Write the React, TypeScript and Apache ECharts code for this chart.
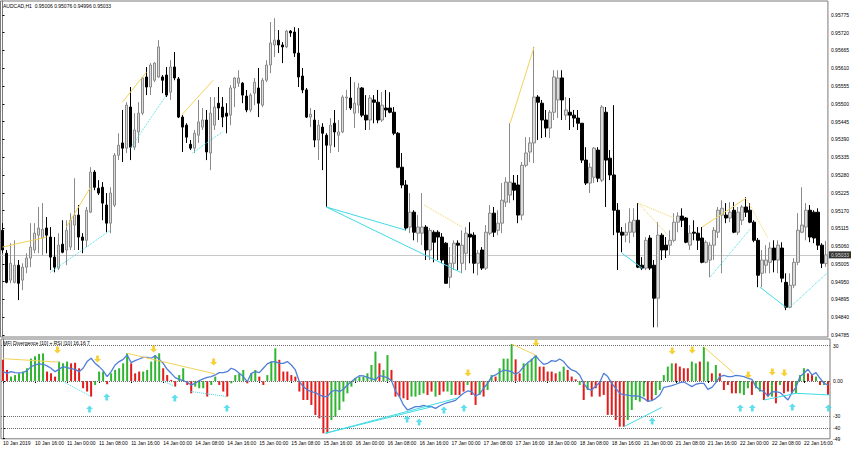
import React, { useEffect, useRef } from "react";
import * as echarts from "echarts";

// ---------- price candles (AUDCAD H1) ----------
const opens = [0.95109,0.95038,0.94955,0.94948,0.95001,0.94955,0.94995,0.95023,0.95048,0.95094,0.95085,0.95116,0.95088,0.95026,0.94992,0.95066,0.95048,0.95057,0.95125,0.95156,0.95088,0.95078,0.95165,0.95289,0.95239,0.95242,0.95187,0.95131,0.95187,0.95341,0.95379,0.95363,0.95490,0.95366,0.95413,0.95471,0.95583,0.95552,0.95573,0.95583,0.95583,0.95589,0.95536,0.95614,0.95577,0.95459,0.95434,0.95375,0.95363,0.95403,0.95428,0.95450,0.95348,0.95434,0.95502,0.95490,0.95471,0.95465,0.95549,0.95564,0.95564,0.95524,0.95481,0.95533,0.95549,0.95496,0.95573,0.95620,0.95682,0.95697,0.95682,0.95676,0.95725,0.95722,0.95657,0.95586,0.95543,0.95459,0.95450,0.95388,0.95428,0.95403,0.95372,0.95440,0.95403,0.95413,0.95518,0.95518,0.95471,0.95496,0.95549,0.95465,0.95450,0.95512,0.95505,0.95450,0.95487,0.95487,0.95474,0.95409,0.95304,0.95249,0.95119,0.95165,0.95100,0.95100,0.95119,0.95048,0.95103,0.95103,0.95088,0.95069,0.94964,0.95007,0.95069,0.95007,0.95038,0.95097,0.95094,0.95007,0.95048,0.94992,0.95100,0.95162,0.95109,0.95131,0.95196,0.95218,0.95255,0.95249,0.95156,0.95310,0.95351,0.95379,0.95521,0.95502,0.95450,0.95425,0.95474,0.95512,0.95580,0.95465,0.95474,0.95465,0.95456,0.95440,0.95326,0.95255,0.95273,0.95357,0.95264,0.95474,0.95332,0.95280,0.95171,0.95103,0.95094,0.95103,0.95103,0.95140,0.95001,0.94992,0.95085,0.95001,0.94899,0.95094,0.95063,0.95063,0.95078,0.95134,0.95153,0.95147,0.95063,0.95103,0.95100,0.95085,0.95010,0.95017,0.95063,0.95103,0.95156,0.95156,0.95147,0.95171,0.95103,0.95140,0.95181,0.95171,0.95134,0.95078,0.94976,0.95001,0.95010,0.95054,0.95017,0.95054,0.94948,0.94871,0.94939,0.95010,0.95103,0.95119,0.95171,0.95165,0.95165,0.95063,0.95006];
const highs = [0.95131,0.95048,0.95069,0.95078,0.95017,0.95007,0.95038,0.95131,0.95131,0.95181,0.95193,0.95150,0.95119,0.95088,0.95100,0.95140,0.95140,0.95162,0.95270,0.95187,0.95100,0.95181,0.95304,0.95295,0.95264,0.95258,0.95224,0.95242,0.95348,0.95409,0.95481,0.95505,0.95552,0.95471,0.95505,0.95583,0.95614,0.95626,0.95629,0.95697,0.95589,0.95614,0.95635,0.95660,0.95583,0.95465,0.95440,0.95388,0.95419,0.95512,0.95487,0.95481,0.95521,0.95521,0.95552,0.95521,0.95502,0.95558,0.95583,0.95604,0.95567,0.95543,0.95533,0.95580,0.95611,0.95580,0.95635,0.95753,0.95765,0.95728,0.95691,0.95728,0.95728,0.95737,0.95734,0.95611,0.95549,0.95487,0.95481,0.95450,0.95440,0.95409,0.95456,0.95481,0.95450,0.95527,0.95543,0.95583,0.95567,0.95564,0.95552,0.95527,0.95527,0.95527,0.95543,0.95536,0.95543,0.95536,0.95490,0.95413,0.95348,0.95264,0.95224,0.95171,0.95156,0.95224,0.95125,0.95116,0.95109,0.95109,0.95100,0.95072,0.95057,0.95078,0.95078,0.95109,0.95119,0.95134,0.95103,0.95048,0.95057,0.95125,0.95187,0.95181,0.95171,0.95255,0.95273,0.95440,0.95280,0.95280,0.95320,0.95397,0.95397,0.95676,0.95527,0.95512,0.95481,0.95481,0.95604,0.95604,0.95604,0.95521,0.95518,0.95481,0.95481,0.95440,0.95366,0.95317,0.95366,0.95366,0.95496,0.95490,0.95357,0.95496,0.95193,0.95119,0.95131,0.95177,0.95177,0.95193,0.95026,0.95088,0.95094,0.95017,0.95134,0.95100,0.95088,0.95109,0.95162,0.95165,0.95177,0.95150,0.95125,0.95140,0.95119,0.95119,0.95078,0.95072,0.95119,0.95181,0.95202,0.95193,0.95196,0.95196,0.95181,0.95187,0.95211,0.95193,0.95140,0.95085,0.95048,0.95063,0.95072,0.95078,0.95078,0.95072,0.94976,0.94976,0.95023,0.95162,0.95242,0.95193,0.95187,0.95171,0.95177,0.95069,0.95076];
const lows = [0.95038,0.94945,0.94945,0.94945,0.94893,0.94924,0.94976,0.94995,0.95038,0.95038,0.95032,0.95038,0.94986,0.94979,0.94986,0.95038,0.95001,0.95048,0.95048,0.95048,0.95038,0.95057,0.95162,0.95233,0.95218,0.95140,0.95103,0.95100,0.95181,0.95326,0.95320,0.95348,0.95326,0.95357,0.95379,0.95465,0.95527,0.95527,0.95567,0.95580,0.95533,0.95521,0.95512,0.95573,0.95456,0.95351,0.95379,0.95357,0.95348,0.95379,0.95419,0.95326,0.95295,0.95419,0.95450,0.95428,0.95409,0.95434,0.95490,0.95552,0.95502,0.95474,0.95474,0.95496,0.95459,0.95490,0.95567,0.95595,0.95645,0.95657,0.95626,0.95672,0.95707,0.95645,0.95552,0.95533,0.95456,0.95428,0.95366,0.95326,0.95295,0.95181,0.95348,0.95366,0.95351,0.95409,0.95481,0.95481,0.95425,0.95471,0.95459,0.95419,0.95419,0.95440,0.95440,0.95444,0.95459,0.95471,0.95403,0.95301,0.95239,0.95109,0.95100,0.95078,0.95072,0.95063,0.95017,0.95017,0.95010,0.95017,0.95007,0.94945,0.94930,0.94986,0.94986,0.94976,0.94986,0.95007,0.94976,0.94970,0.94986,0.94986,0.95094,0.95088,0.95094,0.95100,0.95181,0.95193,0.95202,0.95131,0.95140,0.95304,0.95320,0.95317,0.95388,0.95394,0.95397,0.95394,0.95450,0.95456,0.95450,0.95450,0.95419,0.95428,0.95419,0.95317,0.95249,0.95224,0.95255,0.95258,0.95258,0.95181,0.95264,0.95094,0.94986,0.95041,0.95072,0.95069,0.95088,0.94992,0.94986,0.94986,0.94986,0.94809,0.94809,0.95017,0.95023,0.95032,0.95072,0.95103,0.95119,0.95069,0.95048,0.95078,0.95048,0.95007,0.95007,0.94964,0.95017,0.95085,0.94976,0.95131,0.95134,0.95100,0.95094,0.95125,0.95150,0.95131,0.95072,0.94933,0.94933,0.94976,0.94976,0.94979,0.94976,0.94948,0.94862,0.94868,0.94930,0.95001,0.95100,0.95078,0.95072,0.95069,0.95048,0.94992,0.94996];
const closes = [0.95048,0.94948,0.95007,0.95001,0.94945,0.94995,0.95023,0.95057,0.95100,0.95116,0.95112,0.95094,0.95026,0.94995,0.95063,0.95041,0.95109,0.95140,0.95156,0.95088,0.95078,0.95171,0.95289,0.95242,0.95224,0.95193,0.95131,0.95224,0.95341,0.95372,0.95363,0.95496,0.95366,0.95419,0.95471,0.95580,0.95552,0.95620,0.95626,0.95676,0.95573,0.95527,0.95614,0.95580,0.95459,0.95428,0.95397,0.95363,0.95409,0.95444,0.95450,0.95351,0.95471,0.95490,0.95487,0.95459,0.95462,0.95549,0.95580,0.95580,0.95527,0.95481,0.95527,0.95567,0.95502,0.95573,0.95620,0.95688,0.95697,0.95682,0.95676,0.95725,0.95719,0.95657,0.95583,0.95543,0.95459,0.95468,0.95388,0.95434,0.95409,0.95372,0.95434,0.95413,0.95413,0.95521,0.95521,0.95487,0.95502,0.95549,0.95465,0.95450,0.95518,0.95505,0.95450,0.95496,0.95481,0.95474,0.95409,0.95304,0.95249,0.95116,0.95165,0.95103,0.95119,0.95119,0.95048,0.95109,0.95072,0.95088,0.95017,0.94945,0.95007,0.95069,0.95063,0.95063,0.95100,0.95088,0.95007,0.95038,0.94992,0.95103,0.95162,0.95103,0.95131,0.95202,0.95258,0.95258,0.95233,0.95156,0.95310,0.95348,0.95379,0.95521,0.95505,0.95450,0.95425,0.95474,0.95583,0.95580,0.95512,0.95481,0.95465,0.95456,0.95440,0.95326,0.95255,0.95304,0.95363,0.95270,0.95490,0.95326,0.95280,0.95171,0.95103,0.95094,0.95103,0.95134,0.95140,0.94995,0.94992,0.95078,0.94992,0.94899,0.95094,0.95048,0.95048,0.95078,0.95134,0.95153,0.95140,0.95072,0.95100,0.95100,0.95078,0.95010,0.95072,0.95063,0.95109,0.95171,0.95177,0.95147,0.95165,0.95103,0.95165,0.95181,0.95165,0.95134,0.95078,0.94970,0.95017,0.95017,0.95054,0.95017,0.95063,0.94961,0.94871,0.94939,0.95010,0.95109,0.95125,0.95171,0.95088,0.95085,0.95063,0.95007,0.95033];
const bidPrice = 0.95033;
const chartTitle = "AUDCAD,H1  0.95006 0.95076 0.94996 0.95033";

const priceTicks = [0.94785,0.9484,0.94895,0.9495,0.95005,0.9506,0.95115,0.9517,0.95225,0.9528,0.95335,0.9539,0.95445,0.955,0.95555,0.9561,0.95665,0.9572,0.95775];

const timeLabels = ["10 Jan 2019","10 Jan 16:00","11 Jan 00:00","11 Jan 08:00","11 Jan 16:00","14 Jan 00:00","14 Jan 08:00","14 Jan 16:00","15 Jan 00:00","15 Jan 08:00","15 Jan 16:00","16 Jan 00:00","16 Jan 08:00","16 Jan 16:00","17 Jan 00:00","17 Jan 08:00","17 Jan 16:00","18 Jan 00:00","18 Jan 08:00","18 Jan 16:00","21 Jan 00:00","21 Jan 08:00","21 Jan 16:00","22 Jan 00:00","22 Jan 08:00","22 Jan 16:00"];
const barsPerLabel = 8;

// ---------- indicator window ----------
const indicatorTitle = "MFI Divergence [10] + RSI [10] 16.16 7";
const histValues = [18,9.4,3.7,5,6.5,8,10.8,19,21,23,23.5,8,6.5,3.7,16.5,15,16.5,15,15.5,10.8,-6.2,-9,-13.3,-3.4,8,8,-2.8,6.5,9.4,10.8,15,23.5,15,6.5,8,8,9.4,16.5,22,23.5,10.8,5,0.9,-4.8,5,10.8,-3.4,-10.5,-4.8,-6.2,-6.2,-13.3,-3.4,3.7,-3.4,-9,-13.3,-2,5,6.5,9.4,-2,6.5,9.4,3.7,-3.4,5,16.5,27.8,18,8,8,5,3.7,-9,-16.2,-16.2,-20.4,-28.9,-31.8,-44.5,-44.5,-33.2,-30.4,-24.7,-17.6,-10.5,-4.8,2.3,3.7,3.7,6.5,13.6,25,15,9.4,22,9.4,-13.3,-13.3,-14.8,-16.2,-13.3,-13.3,-11.9,-10.5,-11.9,-9,-13.3,-11.9,-9,-9,-11.9,-11.9,-11.9,-9,-3.4,-11.9,-20.4,-11.9,-13.3,-7.7,5,3.7,10.8,19,19,31.5,18.4,6.5,15,15,19,22,12.2,12.2,8,8,6.5,8,12.2,9.4,3.7,1.4,-3.4,-16.2,-7.7,-13.3,-6.2,-13.3,-11.9,-28.9,-28.9,-33.2,-38.9,-38.9,-33.2,-24.7,-16.2,-17.6,-13.3,-17.6,-16.2,-11.9,-7.7,5,12.2,15,15,12.2,10.8,10.8,16.5,15,16.5,29,16.5,6.5,13.6,6.5,-7.7,-3.4,-10.5,-10.5,-10.5,-11.9,-6.2,-11.9,-6.2,-9,-16.2,-13.3,-13.3,-19,-3.4,-10.5,-9,-10.5,-10.5,5,10.8,6.5,5,3.7,-3.4,-3.4,-11.9];
// g = green bar, r = red bar, ten bars per group
const histColorGroups = ["rrgggggggg","grrrgggrrr","rrrgggrggg","ggrrrggggg","rrrrggrrgg","grggrrrggg","grggrrgggr","rrrrrrrrrr","rrgggggggg","ggggrggrrr","rrggggrrgr","rggrrrgrrg","rggrggggrr","ggggrrrrrg","grrrgrgrrr","rrrrrrgggg","grrgggggrr","rrggrggrgr","rrrrgggrgg","rrgrgrrrgg","grrgrgr"];
const blueLine = [7.9,6.5,7.9,7.1,6.8,7.1,8.8,12.2,13.6,14.5,14.2,12.8,10.8,7.9,9.9,12.2,11.3,10.5,9.9,7.9,10.8,16.5,19.3,15,12.2,8.8,3.7,7.9,13.6,16.5,18.4,22.1,15.6,17.3,18.7,20.1,20.1,19.3,21.3,18.4,15,9.9,6.5,2.8,1.4,0.3,-1.1,-3.4,-2,0.3,1.7,3.1,3.7,5.1,7.1,7.1,7.9,10.8,9.4,6.5,3.7,-0.6,6.5,7.9,7.1,10.8,14.5,16.2,16.5,15,15,16.5,13.6,9.4,-0.6,-4.8,-7.7,-9.1,-9.9,-11.9,-13.3,-13.3,-9.1,-7.7,-9.1,-7.1,-3.4,-0.6,2.3,4.5,4.3,3.1,2,0.9,4.5,3.7,2.8,0.3,-8.5,-13.3,-20.4,-24.7,-23.3,-21.8,-21.8,-20.7,-21.8,-21.8,-23.3,-21.3,-19.6,-18.4,-17.6,-16.5,-13.3,-10.5,-8.5,-9.1,-12.8,-11.1,-6.2,-2,3.7,5.1,7.4,9.1,8.8,7.9,5.7,7.9,12.2,15.6,17.9,21.6,17.3,14.2,15,17.3,16.7,18.7,16.5,12.2,9.4,8.2,5.1,-2,-6.8,-7.7,-4.3,-1.4,6.5,3.7,-2,-6.2,-10.5,-11.9,-11.9,-13,-12.5,-13.3,-14.8,-17.3,-16.7,-14.8,-11.9,-5.4,-4.8,-4,-2.8,-1.4,-0.9,-2.8,-4.8,-2.8,-2,-2,-7.1,-5.4,-1.4,3.7,4.8,3.7,3.7,4.8,4.3,3.7,2.3,1.4,-4.8,-7.7,-9.1,-12.8,-9.4,-9.1,-9.9,-12.8,-16.2,-9.9,-5.4,3.7,6.5,9.9,5.1,7.1,2.3,-2,-3.4];
const mfiTicks = [33, 30, 0, -30, -40, -49];
const mfiLevels = [30, 0, -30, -40];

// ---------- divergence lines: [barIndex, value] pairs ----------
const priceYellowSolid = [
  [[0, 0.95057], [11, 0.95088]],
  [[16, 0.95119], [22, 0.95242]],
  [[30, 0.95505], [36, 0.95598]],
  [[44.8, 0.95465], [52.7, 0.95573]],
  [[127, 0.95440], [133, 0.95676]],
  [[175, 0.95119], [186, 0.95208]],
];
const priceYellowDotted = [
  [[105.5, 0.95187], [115, 0.95119]],
  [[159, 0.95193], [168, 0.95147]],
  [[159, 0.95193], [166.5, 0.95094]],
  [[186, 0.95208], [191.5, 0.95085]],
];
const priceCyanSolid = [
  [[81, 0.95181], [101, 0.95109]],
  [[81, 0.95181], [114.6, 0.94979]],
  [[155, 0.95038], [160, 0.94992]],
  [[189.5, 0.94933], [196, 0.94871]],
];
const priceCyanDotted = [
  [[12, 0.94979], [27, 0.95109]],
  [[32, 0.95363], [41, 0.95527]],
  [[47.5, 0.95348], [55, 0.95413]],
  [[177, 0.94964], [187, 0.95112]],
  [[197, 0.94871], [206.5, 0.94979]],
];
const mfiYellowSolid = [
  [[0, 19], [14, 16]],
  [[31, 23.5], [53, 6]],
  [[127, 31.5], [133, 22]],
  [[175, 29], [182.5, 6.5]],
];
const mfiCyanSolid = [
  [[80.5, -44.5], [107, -22]],
  [[80.5, -44.5], [113.5, -14.5]],
  [[155, -38.9], [164.5, -22.5]],
  [[190, -16.2], [198, -10.5]],
  [[198, -10.5], [206.5, -11.9]],
];
const mfiCyanDotted = [
  [[15, -0.5], [22, -13.3]],
  [[40, 0], [43, -4.8]],
  [[47, -9], [56, -13.3]],
];
const sellArrows = [[13.6, 26.4], [23.6, 18.7], [37.6, 27.2], [52.6, 16.2], [116.1, 6.8], [133.1, 32.3], [167.1, 25.5], [172.1, 26.4], [186.1, 5.1], [192.1, 7.7], [195.1, 6.8]];
const buyArrows = [[21.6, -23.8], [25.9, -13.6], [42.9, -14.5], [55.9, -23], [100.9, -32.3], [103.9, -34.9], [110.1, -24.7], [115.1, -23], [162.1, -34], [184.1, -23], [187.1, -23], [197.1, -22.1], [206.1, -23]];

const FONT = "'Liberation Sans', Arial, sans-serif";
const GREEN = "#2fb52f";
const RED = "#e31b1b";
const YELLOW = "#f2d35a";
const CYAN = "#3fdbe6";
const ARROW_YELLOW = "#f5c400";
const ARROW_CYAN = "#38d6ea";
const DOWN_ARROW = "path://M3,0 L7,0 L7,5 L10,5 L5,10 L0,5 L3,5 Z";
const UP_ARROW = "path://M5,0 L10,5 L7,5 L7,10 L3,10 L3,5 L0,5 Z";

export default function App() {
  const ref = useRef<HTMLDivElement>(null);
  useEffect(() => {
    if (!ref.current) return;
    const chart = echarts.init(ref.current, undefined, { renderer: "svg" });
    const n = closes.length;
    const cats = closes.map((_, i) => String(i));
    const candleData = opens.map((o, i) => [o, closes[i], lows[i], highs[i]]);
    const histColors = histColorGroups.join("");
    const histData = histValues.map((v, i) => ({
      value: v,
      itemStyle: { color: histColors[i] === "g" ? GREEN : RED },
    }));
    const segs = (list: number[][][], color: string, type: string, xi: number, yi: number, z = 6) => ({
      type: "lines",
      coordinateSystem: "cartesian2d",
      xAxisIndex: xi,
      yAxisIndex: yi,
      silent: true,
      z,
      symbol: ["none", "none"],
      lineStyle: { color, width: 1, type, opacity: 1, curveness: 0 },
      data: list.map((s) => ({ coords: s })),
    });
    const labelStyle = { fontSize: 5, color: "#000", fontFamily: FONT };

    chart.setOption({
      animation: false,
      backgroundColor: "#ffffff",
      textStyle: { fontFamily: FONT },
      grid: [
        { left: 0.5, top: 1, width: 829.5, height: 336, show: true, borderColor: "#7a7a7a", borderWidth: 1, backgroundColor: "#fff" },
        { left: 0.5, top: 339, width: 829.5, height: 99.8, show: true, borderColor: "#7a7a7a", borderWidth: 1, backgroundColor: "#fff" },
      ],
      xAxis: [
        { type: "category", gridIndex: 0, data: cats, boundaryGap: true, axisLine: { show: false }, axisTick: { show: false }, axisLabel: { show: false }, splitLine: { show: false } },
        {
          type: "category", gridIndex: 1, data: cats, boundaryGap: true,
          axisLine: { show: false },
          axisTick: { show: true, alignWithLabel: true, length: 2, interval: (i: number) => i % barsPerLabel === 0, lineStyle: { color: "#000" } },
          axisLabel: {
            ...labelStyle, margin: 2, align: "left",
            interval: (i: number) => i % barsPerLabel === 0,
            formatter: (_v: string, i: number) => timeLabels[i / barsPerLabel] ?? "",
          },
          splitLine: { show: false },
        },
        { type: "value", gridIndex: 0, min: -0.5, max: n - 0.5, show: false },
        { type: "value", gridIndex: 1, min: -0.5, max: n - 0.5, show: false },
      ],
      yAxis: [
        {
          type: "value", gridIndex: 0, position: "right", min: 0.94779, max: 0.95818,
          axisLine: { show: true, lineStyle: { color: "#7a7a7a" } },
          axisTick: { show: true, length: 2, customValues: priceTicks, lineStyle: { color: "#000" } },
          axisLabel: { ...labelStyle, margin: 3, customValues: priceTicks, formatter: (v: number) => v.toFixed(5) },
          splitLine: { show: false },
        },
        {
          type: "value", gridIndex: 1, position: "right", min: -49.2, max: 35.7,
          axisLine: { show: true, lineStyle: { color: "#7a7a7a" } },
          axisTick: { show: true, length: 2, customValues: mfiTicks, lineStyle: { color: "#000" } },
          axisLabel: { ...labelStyle, margin: 3, hideOverlap: false, customValues: mfiTicks, formatter: (v: number) => (v === 0 ? "0.00" : String(v)) },
          splitLine: { show: false },
        },
      ],
      series: [
        segs([[[-0.5, bidPrice], [n - 0.5, bidPrice]]], "#c8c8c8", "solid", 2, 0, 1),
        {
          type: "scatter", xAxisIndex: 2, yAxisIndex: 0, data: [[n - 0.5, bidPrice]], symbolSize: 0, z: 10, silent: true,
          label: { show: true, position: "right", distance: 1, formatter: bidPrice.toFixed(5), backgroundColor: "#000", color: "#fff", fontSize: 5, fontFamily: FONT, padding: [1, 2, 1, 2] },
        },
        {
          type: "candlestick", xAxisIndex: 0, yAxisIndex: 0, data: candleData, barWidth: 3, z: 3,
          itemStyle: { color: "#dcdcdc", color0: "#000000", borderColor: "#8a8a8a", borderColor0: "#000000", borderWidth: 1 },
        },
        segs(priceYellowSolid, YELLOW, "solid", 2, 0),
        segs(priceYellowDotted, YELLOW, "dotted", 2, 0),
        segs(priceCyanSolid, CYAN, "solid", 2, 0),
        segs(priceCyanDotted, CYAN, "dotted", 2, 0),
        {
          type: "bar", xAxisIndex: 1, yAxisIndex: 1, data: histData, barWidth: 2, z: 2,
          markLine: {
            silent: true, symbol: ["none", "none"], label: { show: false },
            lineStyle: { color: "#6a6a6a", width: 1, type: "dotted" },
            data: mfiLevels.map((v) => ({ yAxis: v })),
          },
        },
        {
          type: "line", xAxisIndex: 1, yAxisIndex: 1, data: blueLine, symbol: "none", z: 4,
          lineStyle: { color: "#4f7fd8", width: 1.3 },
        },
        segs(mfiYellowSolid, YELLOW, "solid", 3, 1),
        segs(mfiCyanSolid, CYAN, "solid", 3, 1),
        segs(mfiCyanDotted, CYAN, "dotted", 3, 1),
        {
          type: "scatter", xAxisIndex: 3, yAxisIndex: 1, data: sellArrows, symbol: DOWN_ARROW, symbolSize: 7, z: 8,
          itemStyle: { color: ARROW_YELLOW },
        },
        {
          type: "scatter", xAxisIndex: 3, yAxisIndex: 1, data: buyArrows, symbol: UP_ARROW, symbolSize: 7, z: 8,
          itemStyle: { color: ARROW_CYAN },
        },
      ],
      graphic: [
        { type: "text", left: 3, top: 3, z: 20, style: { text: chartTitle, fontSize: 5, fill: "#000", fontFamily: FONT } },
        { type: "text", left: 3, top: 340, z: 20, style: { text: indicatorTitle, fontSize: 5, fill: "#000", fontFamily: FONT } },
      ],
    });
    return () => chart.dispose();
  }, []);
  return <div ref={ref} style={{ position: "fixed", left: 0, top: 0, width: 852, height: 450, background: "#fff" }} />;
}
